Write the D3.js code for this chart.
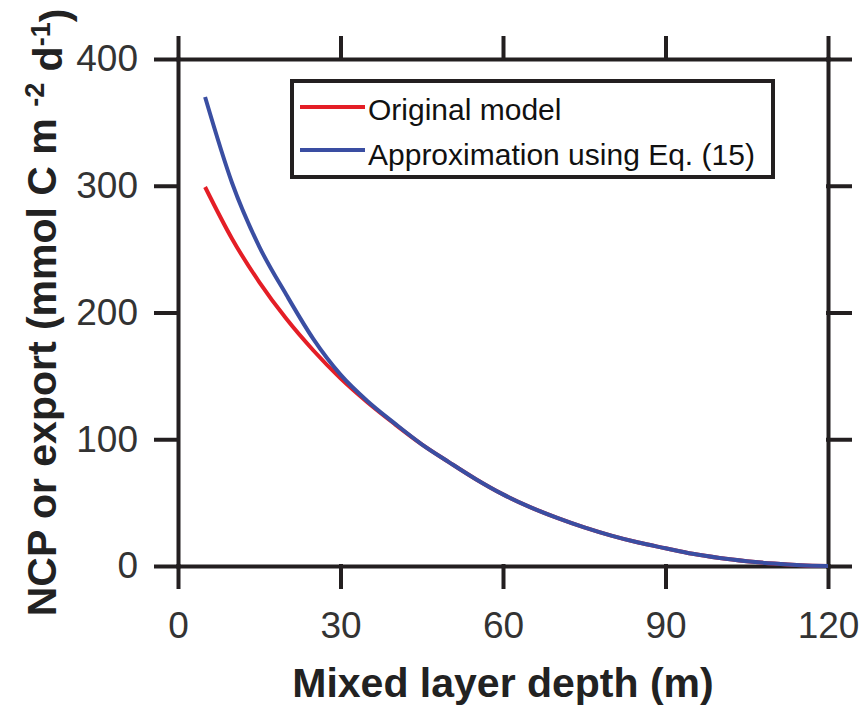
<!DOCTYPE html>
<html>
<head>
<meta charset="utf-8">
<script src="https://cdn.jsdelivr.net/npm/d3@7"></script>
<style>
	body { margin: 0; background: #fff; }
	svg { font-family: "Liberation Sans", Arial, Helvetica, sans-serif; }
</style>
</head>
<body>
<div id="chart-div"></div>
<script>

// chart values
const depth    = [5, 10, 15, 20, 25, 30, 35, 40, 45, 50, 55, 60, 65, 70, 75, 80, 85, 90, 95, 100, 105, 110, 115, 120]
const original = [299, 258, 224, 195, 170, 148, 129, 112, 96, 82, 68.5, 56.5, 46.5, 38, 30.5, 24, 18.5, 14, 9.6, 6.3, 3.8, 1.9, 0.6, 0]
const approx   = [370, 302, 252, 214, 179, 151, 130, 112.5, 96, 82, 68.5, 56.5, 46.5, 38, 30.5, 24, 18.5, 14, 9.6, 6.3, 3.8, 1.9, 0.6, 0]

const x_ticks = [0, 30, 60, 90, 120]
const y_ticks = [0, 100, 200, 300, 400]
const legend_labels = ['Original model', 'Approximation using Eq. (15)']

const width = 866, height = 711
const margin = {left: 178, right: 38, top: 59, bottom: 145}
const plot_width = width - margin.left - margin.right
const plot_height = height - margin.top - margin.bottom
const axis_color = '#231f20'
const colors = ['#e41e26', '#3a4ea2']

var svg = d3.select('#chart-div').append('svg')
	.attr('width', width)
	.attr('height', height)

var g = svg.append('g')
	.attr('transform', 'translate(' + margin.left + ',' + margin.top + ')')

// scales
var x_scale = d3.scaleLinear()
	.domain([0, 120])
	.range([0, plot_width])

var y_scale = d3.scaleLinear()
	.domain([0, 400])
	.range([plot_height, 0])

// axes on all four sides, ticks pointing out
g.append('g')
	.attr('class', 'axis')
	.call(d3.axisLeft(y_scale).tickValues(y_ticks).tickSize(22).tickSizeOuter(0).tickPadding(18))
g.append('g')
	.attr('class', 'axis')
	.attr('transform', 'translate(0,' + plot_height + ')')
	.call(d3.axisBottom(x_scale).tickValues(x_ticks).tickSize(21).tickSizeOuter(0).tickPadding(25))
g.append('g')
	.attr('class', 'axis')
	.call(d3.axisTop(x_scale).tickValues(x_ticks).tickSize(21).tickSizeOuter(0).tickFormat(''))
g.append('g')
	.attr('class', 'axis')
	.attr('transform', 'translate(' + plot_width + ',0)')
	.call(d3.axisRight(y_scale).tickValues(y_ticks).tickSize(22).tickSizeOuter(0).tickFormat(''))

g.selectAll('.axis path, .axis line')
	.attr('stroke', axis_color)
	.attr('stroke-width', 4)
	.attr('stroke-linecap', 'square')
g.selectAll('.axis text')
	.attr('fill', '#333')
	.style('font-size', '37px')
	.style('font-family', '"Liberation Sans", Arial, sans-serif')

// curves
var line = d3.line()
	.curve(d3.curveMonotoneX)
	.x(function(d){ return x_scale(d[0]) })
	.y(function(d){ return y_scale(d[1]) })

var series = [original, approx]
series.forEach(function(vals, i){
	g.append('path')
		.datum(depth.map(function(d, j){ return [d, vals[j]] }))
		.attr('d', line)
		.attr('fill', 'none')
		.attr('stroke', colors[i])
		.attr('stroke-width', 4)
		.attr('stroke-linejoin', 'round')
})

// legend
var legend = g.append('g')
	.attr('transform', 'translate(' + (292 - margin.left) + ',' + (81 - margin.top) + ')')
legend.append('rect')
	.attr('width', 481)
	.attr('height', 96)
	.attr('fill', '#fff')
	.attr('stroke', axis_color)
	.attr('stroke-width', 4)
legend_labels.forEach(function(lab, i){
	legend.append('line')
		.attr('x1', 8).attr('x2', 73)
		.attr('y1', 26 + i * 43).attr('y2', 26 + i * 43)
		.attr('stroke', colors[i])
		.attr('stroke-width', 4)
	legend.append('text')
		.attr('x', 76)
		.attr('y', 39 + i * 45)
		.text(lab)
		.style('font-size', '30px')
		.attr('fill', '#111')
})

// axis titles
g.append('text')
	.attr('text-anchor', 'middle')
	.attr('x', plot_width / 2)
	.attr('y', 697 - margin.top)
	.text('Mixed layer depth (m)')
	.style('font-size', '41px')
	.style('font-weight', 'bold')
	.attr('fill', '#222')

var ylab = svg.append('text')
	.attr('transform', 'translate(56,' + (margin.top + plot_height / 2) + ') rotate(-90)')
	.attr('text-anchor', 'middle')
	.style('font-size', '41px')
	.style('font-weight', 'bold')
	.attr('fill', '#222')
ylab.append('tspan').text('NCP or export (mmol C m ')
ylab.append('tspan').text('-2').attr('dy', '-0.45em').style('font-size', '27px')
ylab.append('tspan').text(' d').attr('dy', '0.45em')
ylab.append('tspan').text('-1').attr('dy', '-0.45em').style('font-size', '27px')
ylab.append('tspan').text(')').attr('dy', '0.45em')

</script>
</body>
</html>
